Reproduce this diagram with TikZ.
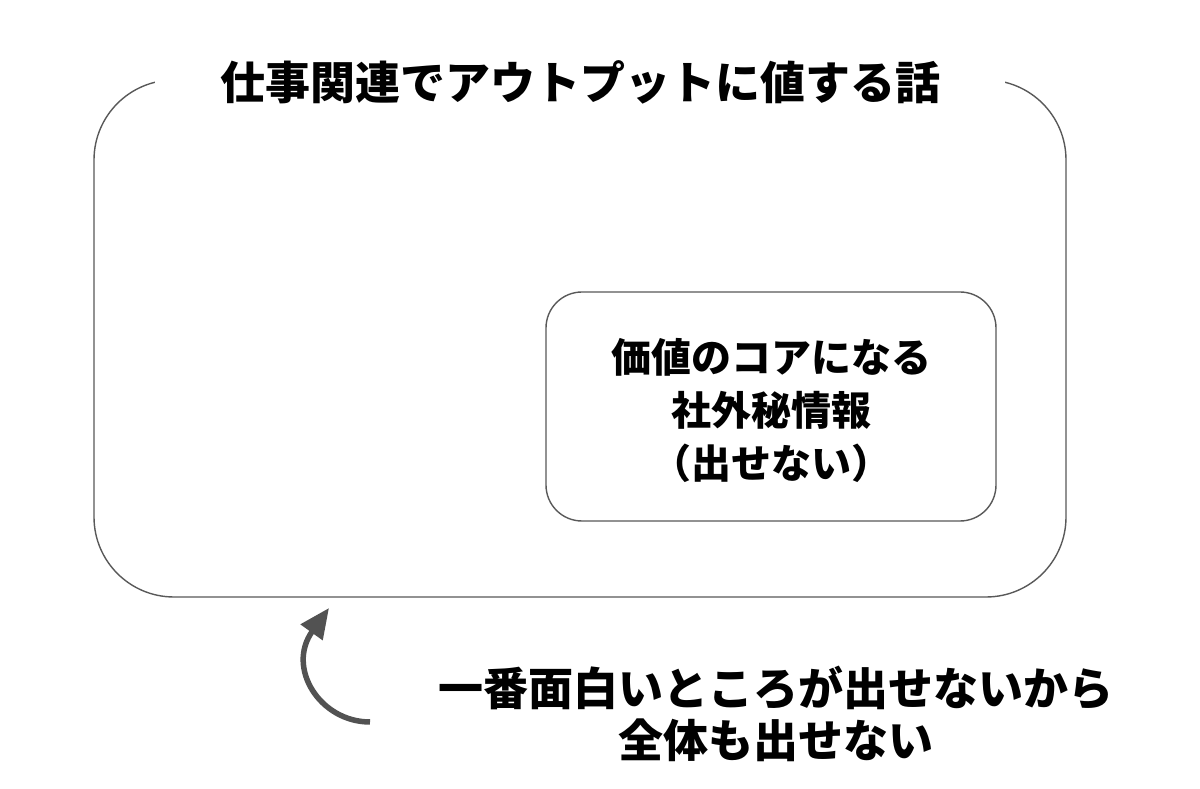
\documentclass[tikz,border=0pt]{standalone}
\usepackage{fontspec}
\newfontfamily\jp{Noto Sans CJK JP}
\usetikzlibrary{arrows.meta}
\tikzset{
  frame/.style={draw=black!65, line width=1.4pt},
  bigtxt/.style={font=\jp\bfseries\fontsize{45}{52}\selectfont, align=center, text=black},
  midtxt/.style={font=\jp\bfseries\fontsize{40}{53}\selectfont, align=center, text=black},
  curvearrow/.style={draw=black!68, line width=5.5pt, -{Triangle[length=30pt,width=26pt]}}
}
\begin{document}
\begin{tikzpicture}[x=1pt,y=1pt]
\useasboundingbox[fill=white] (0,0) rectangle (1200,788);
\draw[frame, rounded corners=80pt] (94,708) rectangle (1066,191);
\node[bigtxt, fill=white, minimum width=850pt, minimum height=60pt, inner sep=0pt] (title) at (580,706) {仕事関連でアウトプットに値する話};
\draw[frame, rounded corners=36pt] (546,496) rectangle (996,267);
\node[midtxt] (core) at (771,378) {価値のコアになる\\社外秘情報\\（出せない）};
\node[bigtxt] (note) at (776,74) {一番面白いところが出せないから\\全体も出せない};
\coordinate (astart) at (370,66);
\coordinate (aend) at (329,180);
\draw[curvearrow] (astart) .. controls (320,66) and (286,120) .. (aend);
\end{tikzpicture}
\end{document}
